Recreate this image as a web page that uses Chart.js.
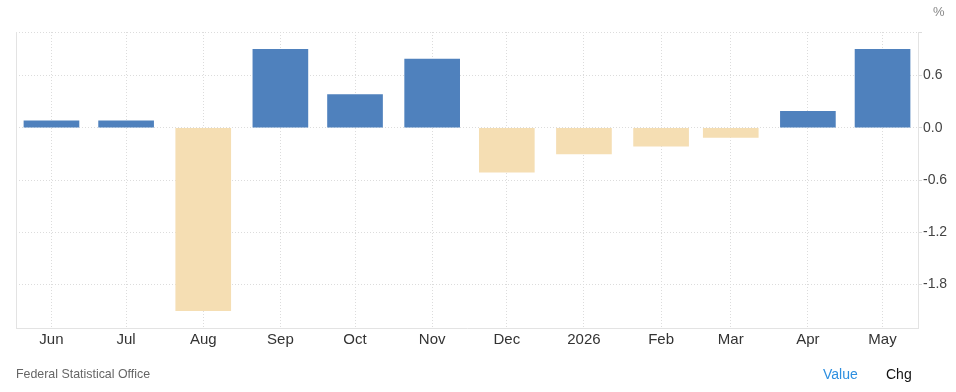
<!DOCTYPE html>
<html>
<head>
<meta charset="utf-8">
<script src="https://cdn.jsdelivr.net/npm/chart.js@4.4.1/dist/chart.umd.min.js"></script>
<style>
    html, body { margin: 0; padding: 0; background: #fff; }
    body { width: 956px; height: 392px; position: relative; overflow: hidden; font-family: "Liberation Sans", Arial, sans-serif; }
    #wrap { position: absolute; left: 0; top: 0; width: 956px; height: 392px; }
    .note { position: absolute; font-size: 12.4px; color: #666; }
    #unit { left: 933px; top: 4px; font-size: 13px; color: #888; }
    #source { left: 16px; top: 367px; }
    #value { left: 823px; top: 366px; font-size: 14px; color: #2d8fe0; }
    #chg { left: 886px; top: 366px; font-size: 14px; color: #111; }
</style>
</head>
<body>
<div id="wrap"><canvas id="chgChart" width="956" height="392"></canvas></div>
<div class="note" id="unit">%</div>
<div class="note" id="source">Federal Statistical Office</div>
<div class="note" id="value">Value</div>
<div class="note" id="chg">Chg</div>
<script>
// --- Data ---
const months = ['2025-06', '2025-07', '2025-08', '2025-09', '2025-10', '2025-11',
                '2025-12', '2026-01', '2026-02', '2026-03', '2026-04', '2026-05'];
const monthLabels = ['Jun', 'Jul', 'Aug', 'Sep', 'Oct', 'Nov', 'Dec', '2026', 'Feb', 'Mar', 'Apr', 'May'];
const changes = [0.08, 0.08, -2.1, 0.9, 0.38, 0.79, -0.51, -0.3, -0.21, -0.11, 0.19, 0.9];
const yTicks = [-1.8, -1.2, -0.6, 0, 0.6];
const yMin = -2.3;
const yMax = 1.1;

// month string -> day number, so spacing follows the calendar
const toDay = (m) => {
    const [y, mo] = m.split('-').map(Number);
    return Date.UTC(y, mo - 1, 1) / 86400000;
};
const days = months.map(toDay);
const labelByDay = {};
days.forEach((d, i) => { labelByDay[d] = monthLabels[i]; });

const BLUE = '#4f81bd';
const WHEAT = '#f5deb3';
const GRID = '#dcdcdc';
const AXIS = '#e3e3e3';

// solid line on the left edge of the plot
const leftEdge = {
    id: 'leftEdge',
    beforeDatasetsDraw(chart) {
        const { ctx, chartArea } = chart;
        ctx.save();
        ctx.strokeStyle = AXIS;
        ctx.lineWidth = 1;
        ctx.beginPath();
        ctx.moveTo(chartArea.left + 0.5, chartArea.top);
        ctx.lineTo(chartArea.left + 0.5, chartArea.bottom);
        ctx.stroke();
        ctx.restore();
    }
};

document.addEventListener('DOMContentLoaded', () => {
    const ctx = document.getElementById('chgChart');
    new Chart(ctx, {
        type: 'bar',
        data: {
            datasets: [{
                data: days.map((d, i) => ({ x: d, y: changes[i] })),
                backgroundColor: (c) => (c.raw && c.raw.y < 0 ? WHEAT : BLUE),
                barThickness: 55,
                borderWidth: 0
            }]
        },
        options: {
            responsive: false,
            animation: false,
            layout: { padding: { left: 16, top: 32, right: 0, bottom: 0 } },
            plugins: { legend: { display: false }, tooltip: { enabled: false } },
            scales: {
                x: {
                    type: 'linear',
                    offset: false,
                    min: days[0] - 14.25,
                    max: days[days.length - 1] + 14.25,
                    afterBuildTicks: (scale) => { scale.ticks = days.map(v => ({ value: v })); },
                    afterFit: (scale) => { scale.height = 64; },
                    grid: { color: GRID, drawTicks: false, offset: false },
                    border: { display: true, color: AXIS, dash: [1, 2] },
                    ticks: {
                        autoSkip: false,
                        maxRotation: 0,
                        padding: 3,
                        color: '#333',
                        font: { family: '"Liberation Sans", Arial, sans-serif', size: 15 },
                        callback: (v) => labelByDay[v] || ''
                    }
                },
                y: {
                    position: 'right',
                    min: yMin,
                    max: yMax,
                    afterBuildTicks: (scale) => {
                        scale.ticks = yTicks.concat([yMax]).map(v => ({ value: v }));
                    },
                    afterFit: (scale) => { scale.width = 38; },
                    grid: { color: GRID, tickLength: 4 },
                    border: { display: true, color: AXIS, dash: [1, 2] },
                    ticks: {
                        padding: 1,
                        color: '#444',
                        font: { family: '"Liberation Sans", Arial, sans-serif', size: 14 },
                        callback: (v) => (v === yMax ? '' : v.toFixed(1))
                    }
                }
            }
        },
        plugins: [leftEdge]
    });
});
</script>
</body>
</html>
